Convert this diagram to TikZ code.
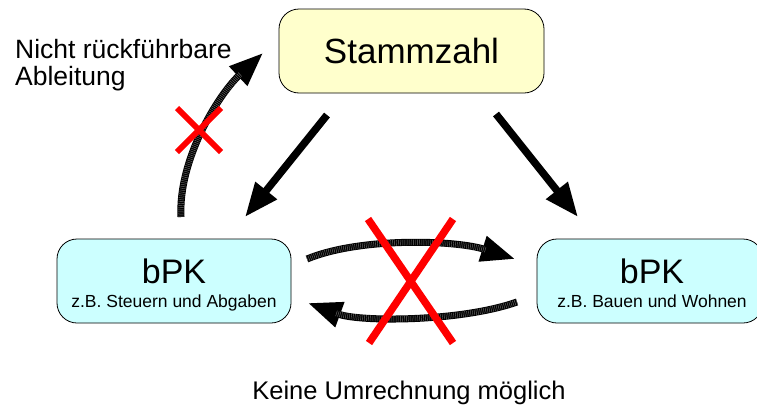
\documentclass[tikz,border=0pt]{standalone}
\usepackage{fontspec}
\setmainfont{Liberation Sans}
\usetikzlibrary{arrows.meta, positioning}
\definecolor{paleyellow}{RGB}{255,255,204}
\definecolor{palecyan}{RGB}{204,255,255}
\definecolor{xred}{RGB}{255,0,0}

\begin{document}
\begin{tikzpicture}[x=1pt, y=-1pt,
    box/.style={draw, line width=0.8pt, rounded corners=20pt, minimum height=84pt, inner sep=0pt},
    bigtip/.style={-{Triangle[length=34pt, width=26pt]}, line width=7.5pt},
    hatched/.style={-{Triangle[length=34pt, width=25pt]}, line width=7pt,
        postaction={draw=black!55, line width=5.6pt, dash pattern=on 0.4pt off 1.5pt, shorten >=30pt, -}},
    cross/.style={draw=xred, line width=7.5pt}]

    \path[use as bounding box, fill=white] (0,0) rectangle (757,407);

    % the three boxes:

    \node[box, fill=paleyellow, minimum width=265pt, font=\fontsize{35}{40}\selectfont] (stamm) at (411.5,51) {Stammzahl};
    \node[box, fill=palecyan, minimum width=234pt] (lbpk) at (174,281) {};
    \node[box, fill=palecyan, minimum width=226pt] (rbpk) at (650,281) {};

    \node[anchor=base, font=\fontsize{34}{38}\selectfont] (lbpk-t) at ([yshift=-2pt]lbpk.center) {bPK};
    \node[anchor=base, font=\fontsize{17.5}{20}\selectfont] (lbpk-s) at ([yshift=-26pt]lbpk.center) {z.B. Steuern und Abgaben};
    \node[anchor=base, font=\fontsize{34}{38}\selectfont] (rbpk-t) at ([xshift=2pt, yshift=-2pt]rbpk.center) {bPK};
    \node[anchor=base, font=\fontsize{17.5}{20}\selectfont] (rbpk-s) at ([xshift=2pt, yshift=-26pt]rbpk.center) {z.B. Bauen und Wohnen};

    % arrow ends next to the boxes

    \coordinate (sl) at (327,115);
    \coordinate (lt) at (245,217);
    \coordinate (sr) at (496,114);
    \coordinate (rt) at (578,217);
    \coordinate (lup) at (181,217);
    \coordinate (stl) at (263,53);
    \coordinate (lr) at (307,259);
    \coordinate (rl) at (515,259);
    \coordinate (rr) at (517,302);
    \coordinate (ll) at (308,303);

    % derivation from the Stammzahl:

    \draw[bigtip] (sl) -- (lt);
    \draw[bigtip] (sr) -- (rt);

    % no way back, no conversion:

    \draw[hatched] (lup) .. controls (178,160) and (218,95) .. (stl);
    \draw[hatched] (lr) .. controls (360,237) and (455,240) .. (rl);
    \draw[hatched] (rr) .. controls (460,322) and (360,322) .. (ll);

    \draw[cross, line width=6pt] (177,108) -- (221,152) (221,108) -- (177,152);
    \draw[cross] (368,219) -- (453,343) (453,219) -- (369,343);

    \node[anchor=base west, align=left, inner sep=0pt, font=\fontsize{26.5}{27}\selectfont] (note) at (15,85) {Nicht rückführbare\\Ableitung};
    \node[anchor=base, inner sep=0pt, font=\fontsize{25.5}{30}\selectfont] (keine) at (409,399) {Keine Umrechnung möglich};
%
\end{tikzpicture}
\end{document}
